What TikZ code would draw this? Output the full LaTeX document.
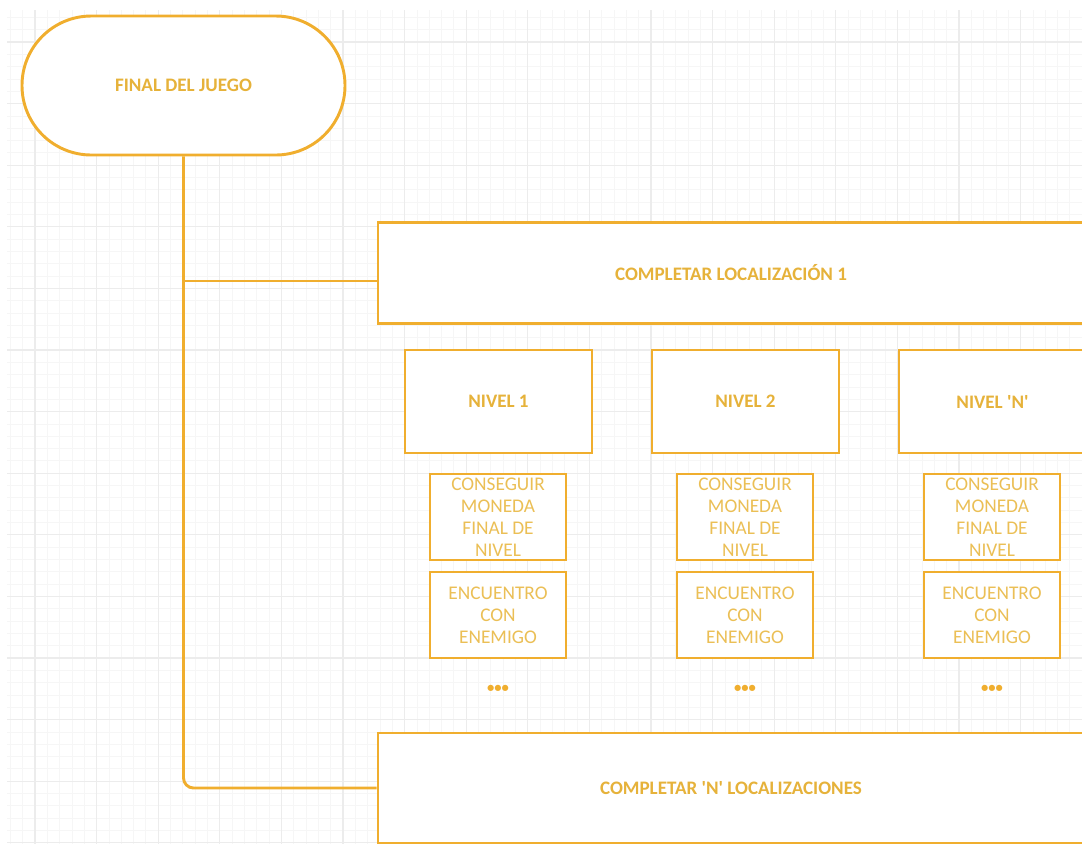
\documentclass[tikz,border=0pt]{standalone}
\usepackage{fontspec}
\setmainfont{Carlito}[Ligatures=TeXOff]
\definecolor{lineor}{HTML}{F0AE2E}
\definecolor{txtbold}{HTML}{E6B23A}
\definecolor{txtreg}{HTML}{EBBF55}
\definecolor{gridminor}{HTML}{F6F6F6}
\definecolor{gridmajor}{HTML}{ECECEC}
\tikzset{
  minorgrid/.style={draw=gridminor, line width=0.6pt},
  majorgrid/.style={draw=gridmajor, line width=0.8pt},
  bigbox/.style={draw=lineor, fill=white, line width=2.2pt, inner sep=0pt, font=\bfseries\fontsize{14.3}{16}\selectfont, text=txtbold, align=center},
  smallbox/.style={draw=lineor, fill=white, line width=2.2pt, inner sep=0pt, minimum width=102pt, minimum height=64.5pt, font=\fontsize{14.5}{16.5}\selectfont, text=txtreg, align=center},
  levelbox/.style={bigbox, minimum width=140.25pt, minimum height=77.25pt},
  dotsnode/.style={inner sep=0pt, text=lineor, font=\bfseries\fontsize{11}{13}\selectfont},
  conn/.style={draw=lineor, line width=2.2pt}
}
\begin{document}
\begin{tikzpicture}[x=0.75pt,y=-0.75pt]
\useasboundingbox (0,0) rectangle (1082,844);
% background grid
\begin{scope}
\clip (7,10) rectangle (1082,844);
\foreach \i in {-3,...,86} {\draw[minorgrid] ({35+\i*12.32},10) -- ({35+\i*12.32},844);}
\foreach \i in {-3,...,66} {\draw[minorgrid] (7,{42+\i*12.32}) -- (1082,{42+\i*12.32});}
\foreach \i in {0,...,17} {\draw[majorgrid] ({35+\i*61.6},10) -- ({35+\i*61.6},844);}
\foreach \i in {0,...,13} {\draw[majorgrid] (7,{42+\i*61.6}) -- (1082,{42+\i*61.6});}
\end{scope}
% nodes
\node[bigbox, minimum width=242.25pt, minimum height=104.25pt, rounded corners=52pt] (start) at (183.5,85.5) {FINAL DEL JUEGO};
\node[bigbox, minimum width=529.5pt, minimum height=75.75pt] (loc1) at (731,273) {COMPLETAR LOCALIZACIÓN 1};
\node[bigbox, minimum width=529.5pt, minimum height=82.5pt] (locN) at (731,788) {COMPLETAR 'N' LOCALIZACIONES};
\node[levelbox] (niv1) at (498.5,401.5) {NIVEL 1};
\node[levelbox] (niv2) at (745.5,401.5) {NIVEL 2};
\node[levelbox] (nivN) at (992.5,401.5) {NIVEL 'N'};
\node[smallbox] (coin1) at (498,517) {CONSEGUIR\\MONEDA\\FINAL DE\\NIVEL};
\node[smallbox] (coin2) at (745,517) {CONSEGUIR\\MONEDA\\FINAL DE\\NIVEL};
\node[smallbox] (coinN) at (992,517) {CONSEGUIR\\MONEDA\\FINAL DE\\NIVEL};
\node[smallbox] (ene1) at (498,615) {ENCUENTRO\\CON\\ENEMIGO};
\node[smallbox] (ene2) at (745,615) {ENCUENTRO\\CON\\ENEMIGO};
\node[smallbox] (eneN) at (992,615) {ENCUENTRO\\CON\\ENEMIGO};
\node[dotsnode] (dots1) at (498,689) {•••};
\node[dotsnode] (dots2) at (745,689) {•••};
\node[dotsnode] (dotsN) at (992,689) {•••};
% connectors
\coordinate (b1) at (378,281);
\draw[conn, rounded corners=7.5pt] (start.south) |- (locN.west);
\draw[conn] (start.south |- b1) -- (b1);
\end{tikzpicture}
\end{document}
